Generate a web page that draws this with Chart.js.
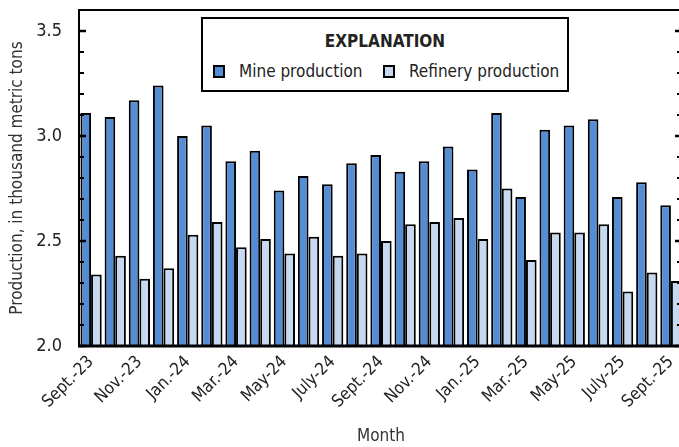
<!DOCTYPE html>
<html>
<head>
<meta charset="utf-8">
<script src="https://cdn.jsdelivr.net/npm/chart.js@4.4.1/dist/chart.umd.min.js"></script>
<style>
  html, body { margin: 0; padding: 0; background: #fff; overflow: hidden; }
  #wrap { position: relative; width: 679px; height: 447px; overflow: hidden; }
  canvas { position: absolute; left: 0; top: 0; }
  #legend {
    position: absolute; left: 201px; top: 17px; width: 364px; height: 71px;
    border: 2px solid #000; background: #fff;
    font-family: "Liberation Sans Narrow", "Arial Narrow", "DejaVu Sans Condensed", sans-serif;
    color: #222;
  }
  #legend .ttl { position: absolute; left: 0; right: 0; top: 12px; text-align: center; font-weight: bold; font-size: 17px; }
  #legend .item { position: absolute; top: 42px; font-size: 17px; white-space: nowrap; }
  #legend .sw { display: inline-block; width: 8px; height: 9px; border: 2px solid #000; margin-right: 14px; vertical-align: -1px; }
</style>
</head>
<body>
<div id="wrap">
  <canvas id="prodChart" width="686" height="447"></canvas>
  <div id="legend">
    <div class="ttl">EXPLANATION</div>
    <div class="item" style="left:10px"><span class="sw" style="background:#548DD4"></span>Mine production</div>
    <div class="item" style="left:180px"><span class="sw" style="background:#C6D9F1"></span>Refinery production</div>
  </div>
</div>
<script>
const MONTHS = ['Sept.-23', 'Oct.-23', 'Nov.-23', 'Dec.-23', 'Jan.-24', 'Feb.-24', 'Mar.-24', 'Apr.-24',
  'May-24', 'June-24', 'July-24', 'Aug.-24', 'Sept.-24', 'Oct.-24', 'Nov.-24', 'Dec.-24',
  'Jan.-25', 'Feb.-25', 'Mar.-25', 'Apr.-25', 'May-25', 'June-25', 'July-25', 'Aug.-25', 'Sept.-25'];
const MINE = [3.11, 3.09, 3.17, 3.24, 3.00, 3.05, 2.88, 2.93, 2.74, 2.81, 2.77, 2.87, 2.91,
  2.83, 2.88, 2.95, 2.84, 3.11, 2.71, 3.03, 3.05, 3.08, 2.71, 2.78, 2.67];
const REFINERY = [2.34, 2.43, 2.32, 2.37, 2.53, 2.59, 2.47, 2.51, 2.44, 2.52, 2.43, 2.44, 2.50,
  2.58, 2.59, 2.61, 2.51, 2.75, 2.41, 2.54, 2.54, 2.58, 2.26, 2.35, 2.31];
const Y_MIN = 2.0;
const Y_MAX = 3.6;
const Y_LABELS = [2.0, 2.5, 3.0, 3.5];

const FONT = '"Liberation Sans Narrow", "Arial Narrow", "DejaVu Sans Condensed", sans-serif';
const TEXT_COLOR = '#222';

function isMajor(v) {
    return Y_LABELS.some(function (m) { return Math.abs(m - v) < 1e-6; });
}

// frame round the plot with inward tick marks on both sides
var framePlugin = {
    id: 'frame',
    afterDraw: function (chart) {
        var ctx = chart.ctx;
        var a = chart.chartArea;
        var y = chart.scales.y;
        ctx.save();
        ctx.strokeStyle = '#000';
        ctx.lineWidth = 2;
        ctx.beginPath();
        ctx.moveTo(a.left, a.bottom);
        ctx.lineTo(a.left, a.top);
        ctx.lineTo(a.right, a.top);
        ctx.lineTo(a.right, a.bottom);
        ctx.stroke();
        ctx.lineWidth = 3;
        ctx.beginPath();
        ctx.moveTo(a.left - 1, a.bottom);
        ctx.lineTo(a.right, a.bottom);
        ctx.stroke();
        y.ticks.forEach(function (t) {
            var py = y.getPixelForValue(t.value);
            var major = isMajor(t.value);
            ctx.lineWidth = major ? 2.5 : 2;
            ctx.beginPath();
            ctx.moveTo(a.left, py);
            ctx.lineTo(a.left + (major ? 7 : 5), py);
            ctx.moveTo(a.right, py);
            ctx.lineTo(a.right - (major ? 8 : 6), py);
            ctx.stroke();
        });
        ctx.restore();
    }
};

var ctx = document.getElementById('prodChart');
new Chart(ctx, {
    type: 'bar',
    data: {
        labels: MONTHS,
        datasets: [{
            label: 'Mine production',
            data: MINE,
            backgroundColor: '#548DD4',
            borderColor: '#000',
            borderWidth: 2,
            borderSkipped: 'bottom'
        }, {
            label: 'Refinery production',
            data: REFINERY,
            backgroundColor: '#C6D9F1',
            borderColor: '#000',
            borderWidth: 2,
            borderSkipped: 'bottom'
        }]
    },
    options: {
        responsive: false,
        animation: false,
        devicePixelRatio: 1,
        layout: {padding: {left: 0, right: 3, top: 10, bottom: 0}},
        datasets: {bar: {categoryPercentage: 0.88, barPercentage: 1.0}},
        plugins: {
            legend: {display: false},
            tooltip: {enabled: false}
        },
        scales: {
            x: {
                grid: {display: false, drawTicks: false},
                border: {display: false},
                ticks: {
                    autoSkip: false,
                    minRotation: 45,
                    maxRotation: 45,
                    padding: 6,
                    color: TEXT_COLOR,
                    font: {family: FONT, size: 17},
                    callback: function (val, i) {
                        return i % 2 === 0 ? this.getLabelForValue(val) : '';
                    }
                },
                title: {
                    display: true,
                    text: 'Month',
                    color: '#333',
                    font: {family: FONT, size: 17},
                    padding: {top: 0, bottom: 0}
                },
                afterFit: function (scale) {
                    scale.height = 101;
                    scale.paddingLeft = 0;
                    scale.paddingRight = 0;
                }
            },
            y: {
                min: Y_MIN,
                max: Y_MAX,
                grid: {display: false, drawTicks: false},
                border: {display: false},
                ticks: {
                    stepSize: 0.1,
                    autoSkip: false,
                    padding: 17,
                    color: TEXT_COLOR,
                    font: {family: FONT, size: 18},
                    callback: function (v) {
                        return isMajor(v) ? v.toFixed(1) : '';
                    }
                },
                title: {
                    display: true,
                    text: 'Production, in thousand metric tons',
                    color: '#333',
                    font: {family: FONT, size: 17},
                    padding: {top: 7, bottom: 0}
                },
                afterFit: function (scale) {
                    scale.width = 79;
                    scale.paddingTop = 0;
                    scale.paddingBottom = 0;
                }
            }
        }
    },
    plugins: [framePlugin]
});
</script>
</body>
</html>
